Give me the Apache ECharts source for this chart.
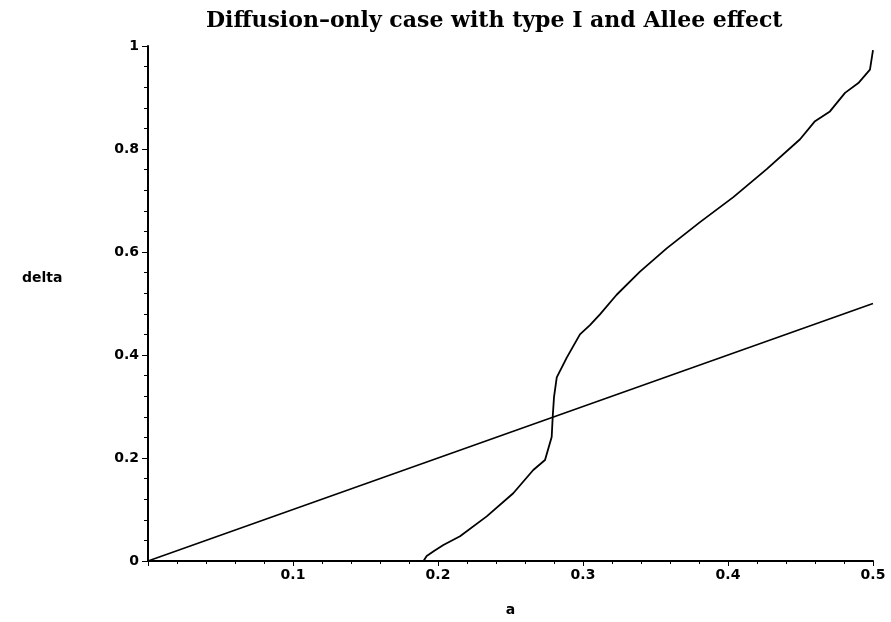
<!DOCTYPE html>
<html>
<head>
<meta charset="utf-8">
<script src="https://cdn.jsdelivr.net/npm/echarts@6/dist/echarts.min.js"></script>
<style>
  html, body { margin: 0; padding: 0; background: #fff; }
  #chart { width: 891px; height: 622px; }
</style>
</head>
<body>
<div id="chart"></div>
<script>
// Data
const titleText = 'Diffusion\u2013only case with type I and Allee effect';
const xName = 'a';
const yName = 'delta';

// straight line delta = a
const lineA = [0, 0.5];
const lineDelta = [0, 0.5];

// boundary curve
const curveA = [0.19, 0.1922, 0.1975, 0.2037, 0.2152, 0.2336, 0.2519, 0.2657, 0.2738, 0.2784,
  0.2791, 0.28, 0.2819, 0.2888, 0.2979, 0.3048, 0.3117, 0.3232, 0.3393, 0.3577,
  0.3807, 0.4037, 0.4267, 0.4497, 0.46, 0.4703, 0.4807, 0.4899, 0.4979, 0.5];
const curveDelta = [0, 0.0096, 0.02, 0.031, 0.0482, 0.0867, 0.1316, 0.1767, 0.196, 0.2408,
  0.2794, 0.318, 0.3565, 0.395, 0.44, 0.458, 0.479, 0.517, 0.562, 0.607,
  0.658, 0.7066, 0.761, 0.819, 0.854, 0.873, 0.909, 0.928, 0.954, 0.992];

const xMin = 0, xMax = 0.5, xStep = 0.1;
const yMin = 0, yMax = 1, yStep = 0.2;

const zip = (xs, ys) => xs.map((x, i) => [x, ys[i]]);

const chart = echarts.init(document.getElementById('chart'), null, { renderer: 'canvas' });
const labelFont = { color: '#000', fontFamily: 'DejaVu Sans, Verdana, sans-serif', fontWeight: 'bold', fontSize: 14 };

chart.setOption({
  animation: false,
  backgroundColor: '#fff',
  title: {
    text: titleText,
    left: 201,
    top: 5,
    textStyle: { fontFamily: 'DejaVu Serif, serif', fontWeight: 'bold', fontSize: 22, color: '#000' }
  },
  graphic: [{
    type: 'text', left: 22, top: 271,
    style: { text: yName, fill: '#000', font: 'bold 14px "DejaVu Sans", Verdana, sans-serif' }
  }],
  grid: { left: 148, right: 18, top: 46, bottom: 57, containLabel: false },
  xAxis: {
    type: 'value', min: xMin, max: xMax, interval: xStep,
    name: xName, nameLocation: 'middle', nameGap: 42,
    nameTextStyle: Object.assign({}, labelFont),
    axisLine: { show: true, onZero: false, lineStyle: { color: '#000', width: 2 } },
    axisTick: { show: true, inside: false, length: 5, lineStyle: { color: '#000', width: 1 } },
    minorTick: { show: true, splitNumber: 5, length: 3, lineStyle: { color: '#000' } },
    axisLabel: Object.assign({ showMinLabel: false, margin: 7 }, labelFont),
    splitLine: { show: false }
  },
  yAxis: {
    type: 'value', min: yMin, max: yMax, interval: yStep,
    axisLine: { show: true, onZero: false, lineStyle: { color: '#000', width: 2 } },
    axisTick: { show: true, inside: false, length: 6, lineStyle: { color: '#000', width: 1 } },
    minorTick: { show: true, splitNumber: 5, length: 4, lineStyle: { color: '#000' } },
    axisLabel: Object.assign({ margin: 9 }, labelFont),
    splitLine: { show: false }
  },
  series: [
    {
      type: 'line', data: zip(lineA, lineDelta), showSymbol: false, symbol: 'none',
      lineStyle: { color: '#000', width: 1.5 }, z: 3
    },
    {
      type: 'line', data: zip(curveA, curveDelta), showSymbol: false, symbol: 'none',
      lineStyle: { color: '#000', width: 1.8 }, z: 3
    }
  ]
});
</script>
</body>
</html>
